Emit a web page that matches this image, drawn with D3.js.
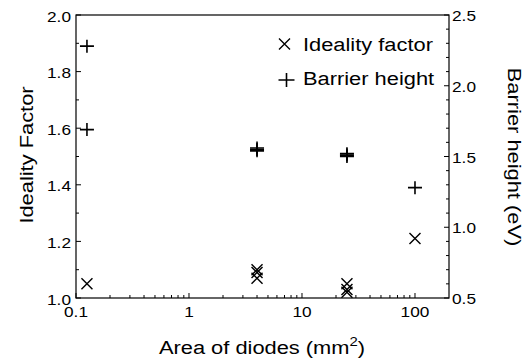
<!DOCTYPE html>
<html><head><meta charset="utf-8">
<script src="https://cdn.jsdelivr.net/npm/d3@7"></script>
<style>body{margin:0;background:#fff;} text{font-family:"Liberation Sans",Arial,sans-serif;fill:#000;}</style>
</head><body><svg id="c" width="526" height="360"></svg>
<script>
// Data
const idealityArea = [0.125, 4, 4, 4, 25, 25, 25, 100];
const idealityValue = [1.05, 1.10, 1.09, 1.07, 1.05, 1.03, 1.02, 1.21];
const barrierArea = [0.125, 0.125, 4, 4, 4, 25, 25, 25, 100];
const barrierValue = [2.28, 1.69, 1.56, 1.55, 1.54, 1.52, 1.51, 1.50, 1.28];
const xTickValues = [0.1, 1, 10, 100];
const xTickLabels = ["0.1", "1", "10", "100"];
const leftTicks = [1.0, 1.2, 1.4, 1.6, 1.8, 2.0];
const rightTicks = [0.5, 1.0, 1.5, 2.0, 2.5];

const svg = d3.select("#c");
const L = 76, R = 449, T = 15, B = 298;
const SX = 1.15;
const x = d3.scaleLog().domain([0.1, 200]).range([L, R]);
const yL = d3.scaleLinear().domain([1.0, 2.0]).range([B, T]);
const yR = d3.scaleLinear().domain([0.5, 2.5]).range([B, T]);

const g = svg.append("g");
g.append("rect").attr("x", L).attr("y", T).attr("width", R - L).attr("height", B - T)
  .attr("fill", "none").attr("stroke", "#000").attr("stroke-width", 1.2);

// x ticks (log)
const xMinor = [];
for (let d = 0.1; d < 200; d *= 10) for (let k = 2; k <= 9; k++) { const v = d * k; if (v < 200) xMinor.push(v); }
g.selectAll(".xm").data(xMinor).enter().append("line")
  .attr("x1", d => x(d)).attr("x2", d => x(d)).attr("y1", B).attr("y2", B - 3)
  .attr("stroke", "#000").attr("stroke-width", 1);
g.selectAll(".xM").data(xTickValues).enter().append("line")
  .attr("x1", d => x(d)).attr("x2", d => x(d)).attr("y1", B).attr("y2", B - 5)
  .attr("stroke", "#000").attr("stroke-width", 1);
g.selectAll(".xl").data(xTickValues).enter().append("text")
  .attr("transform", d => `translate(${x(d)},${B + 19}) scale(${SX},1)`).attr("text-anchor", "middle")
  .attr("font-size", 15).text((d, i) => xTickLabels[i]);

// left ticks
const lMinor = d3.range(1.1, 2.0, 0.2);
g.selectAll(".lm").data(lMinor).enter().append("line")
  .attr("x1", L).attr("x2", L + 3).attr("y1", d => yL(d)).attr("y2", d => yL(d))
  .attr("stroke", "#000");
g.selectAll(".lM").data(leftTicks).enter().append("line")
  .attr("x1", L).attr("x2", L + 5).attr("y1", d => yL(d)).attr("y2", d => yL(d))
  .attr("stroke", "#000");
g.selectAll(".ll").data(leftTicks).enter().append("text")
  .attr("transform", d => `translate(${L - 5},${yL(d) + 6.5}) scale(${SX},1)`).attr("text-anchor", "end")
  .attr("font-size", 15).text(d => d.toFixed(1));

// right ticks
const rMinor = d3.range(0.6, 2.5, 0.1).filter(v => Math.abs(v * 2 - Math.round(v * 2)) > 0.01);
g.selectAll(".rm").data(rMinor).enter().append("line")
  .attr("x1", R).attr("x2", R - 3).attr("y1", d => yR(d)).attr("y2", d => yR(d))
  .attr("stroke", "#000");
g.selectAll(".rM").data(rightTicks).enter().append("line")
  .attr("x1", R).attr("x2", R - 5).attr("y1", d => yR(d)).attr("y2", d => yR(d))
  .attr("stroke", "#000");
g.selectAll(".rl").data(rightTicks).enter().append("text")
  .attr("transform", d => `translate(${R + 3},${yR(d) + 6}) scale(${SX},1)`).attr("text-anchor", "start")
  .attr("font-size", 15).text(d => d.toFixed(1));

// axis titles
g.append("text").attr("transform", `translate(33,155) rotate(-90) scale(${SX},1)`)
  .attr("text-anchor", "middle").attr("font-size", 19).text("Ideality Factor");
g.append("text").attr("transform", `translate(507.5,157) rotate(90) scale(${SX},1)`)
  .attr("text-anchor", "middle").attr("font-size", 19).text("Barrier height (eV)");
const xt = g.append("text").attr("transform", `translate(262,353.5) scale(${SX},1)`).attr("text-anchor", "middle").attr("font-size", 19);
xt.append("tspan").text("Area of diodes (mm");
xt.append("tspan").attr("font-size", 13).attr("dy", -8).text("2");
xt.append("tspan").attr("dy", 8).text(")");

// markers
function cross(sel, s) { return sel.append("path").attr("d", `M${-s},${-s}L${s},${s}M${-s},${s}L${s},${-s}`).attr("stroke", "#000").attr("stroke-width", 1.4).attr("fill", "none"); }
function plus(sel, w, h) { return sel.append("path").attr("d", `M${-w},0L${w},0M0,${-h}L0,${h}`).attr("stroke", "#000").attr("stroke-width", 1.6).attr("fill", "none"); }

const data1 = idealityArea.map((a, i) => ({ a, v: idealityValue[i] }));
const data2 = barrierArea.map((a, i) => ({ a, v: barrierValue[i] }));
g.selectAll(".p1").data(data1).enter().append("g")
  .attr("transform", d => `translate(${x(d.a)},${yL(d.v)})`).each(function () { cross(d3.select(this), 5.5); });
g.selectAll(".p2").data(data2).enter().append("g")
  .attr("transform", d => `translate(${x(d.a)},${yR(d.v)})`).each(function () { plus(d3.select(this), 7, 6.5); });

// legend
const lg = g.append("g");
cross(lg.append("g").attr("transform", "translate(284.5,44)"), 5.5);
plus(lg.append("g").attr("transform", "translate(286.5,80)"), 8, 7);
lg.append("text").attr("transform", `translate(303,51) scale(${SX},1)`).attr("font-size", 19).text("Ideality factor");
lg.append("text").attr("transform", `translate(303,85) scale(${SX},1)`).attr("font-size", 19).text("Barrier height");
</script></body></html>
